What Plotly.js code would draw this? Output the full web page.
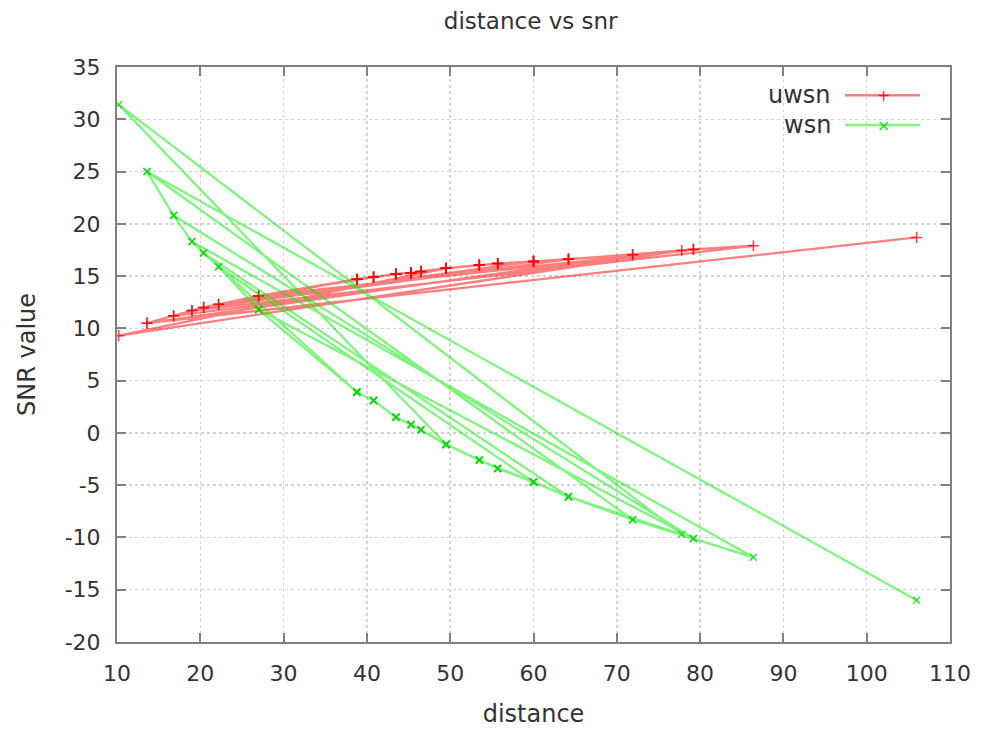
<!DOCTYPE html>
<html>
<head>
<meta charset="utf-8">
<script src="https://cdn.plot.ly/plotly-3.0.1.min.js"></script>
<style>html,body{margin:0;padding:0;background:#fff;}#chart{width:981px;height:731px;}</style>
</head>
<body>
<div id="chart"></div>
<script>
// records in file order (same order for both series)
const distance = [
  13.6, 16.8, 19.0, 20.4, 22.2, 27.0, 38.8, 40.8, 43.5, 45.3, 46.5, 49.5, 53.5, 55.7, 60.0, 64.2, 77.8,
  10.2, 49.5, 53.5, 55.7, 60.0, 64.2, 71.9, 79.2, 86.4,
  19.0, 16.8, 79.2,
  27.0, 38.8, 40.8, 43.5, 45.3, 46.5, 49.5, 53.5, 55.7, 60.0,
  22.2, 27.0, 38.8, 40.8, 43.5, 45.3, 46.5, 49.5, 55.7, 60.0, 64.2,
  20.4, 38.8, 40.8, 43.5, 45.3, 49.5, 53.5, 60.0, 64.2, 71.9,
  13.6, 106.0];
const uwsn = [
  10.5, 11.2, 11.7, 12.0, 12.3, 13.1, 14.7, 14.9, 15.2, 15.3, 15.45, 15.75, 16.05, 16.2, 16.4, 16.6, 17.45,
  9.3, 15.75, 16.05, 16.2, 16.4, 16.6, 17.05, 17.55, 17.9,
  11.7, 11.2, 17.55,
  13.1, 14.7, 14.9, 15.2, 15.3, 15.45, 15.75, 16.05, 16.2, 16.4,
  12.3, 13.1, 14.7, 14.9, 15.2, 15.3, 15.45, 15.75, 16.2, 16.4, 16.6,
  12.0, 14.7, 14.9, 15.2, 15.3, 15.75, 16.05, 16.4, 16.6, 17.05,
  10.5, 18.7];
const wsn = [
  25.0, 20.8, 18.3, 17.2, 15.9, 11.8, 3.9, 3.1, 1.5, 0.8, 0.3, -1.1, -2.6, -3.4, -4.7, -6.1, -9.7,
  31.4, -1.1, -2.6, -3.4, -4.7, -6.1, -8.3, -10.1, -11.9,
  18.3, 20.8, -10.1,
  11.8, 3.9, 3.1, 1.5, 0.8, 0.3, -1.1, -2.6, -3.4, -4.7,
  15.9, 11.8, 3.9, 3.1, 1.5, 0.8, 0.3, -1.1, -3.4, -4.7, -6.1,
  17.2, 3.9, 3.1, 1.5, 0.8, -1.1, -2.6, -4.7, -6.1, -8.3,
  25.0, -16.0];
const seriesNames = ["uwsn", "wsn"];
const xTicks = [10, 20, 30, 40, 50, 60, 70, 80, 90, 100, 110];
const yTicks = [-20, -15, -10, -5, 0, 5, 10, 15, 20, 25, 30, 35];

const red = "rgba(255,0,0,0.5)";
const green = "rgba(0,235,0,0.5)";
const font = "DejaVu Sans, sans-serif";
const txt = "#333";

const traces = [
  {x: distance, y: uwsn, name: seriesNames[0], mode: "lines+markers", type: "scatter",
   line: {color: red, width: 2.3},
   marker: {symbol: "cross-thin", size: 8, color: red, line: {color: "rgba(255,0,0,0.75)", width: 1.5}}},
  {x: distance, y: wsn, name: seriesNames[1], mode: "lines+markers", type: "scatter",
   line: {color: green, width: 2.3},
   marker: {symbol: "x-thin", size: 7, color: green, line: {color: "rgba(0,220,0,0.8)", width: 1.5}}}
];

const axisCommon = {
  showline: true, linecolor: "#808080", linewidth: 2, mirror: "allticks",
  ticks: "inside", ticklen: 9, tickwidth: 2, tickcolor: "#808080",
  showgrid: true, gridcolor: "#d4d4d4", griddash: "dot", gridwidth: 1.5,
  zeroline: false, tickfont: {family: font, size: 22, color: txt},
  fixedrange: true, automargin: false
};

const layout = {
  width: 981, height: 731,
  margin: {l: 117, r: 31, t: 67, b: 89},
  paper_bgcolor: "#fff", plot_bgcolor: "#fff",
  showlegend: false,
  title: {text: "distance vs snr", font: {family: font, size: 23, color: txt}, x: 0.541, xanchor: "center", y: 0.972, yanchor: "middle"},
  xaxis: Object.assign({}, axisCommon, {range: [10, 110], tickvals: xTicks, ticktext: xTicks.map(String), ticklabelstandoff: 11,
    title: {text: "distance", font: {family: font, size: 24, color: txt}, standoff: 20}}),
  yaxis: Object.assign({}, axisCommon, {range: [-20, 35], tickvals: yTicks, ticktext: yTicks.map(String), ticklabelstandoff: 10,
    title: {text: "SNR value", font: {family: font, size: 24, color: txt}, standoff: 22}}),
  shapes: [
    {type: "line", xref: "paper", yref: "paper", x0: 0.874, x1: 0.964, y0: 0.951, y1: 0.951, line: {color: red, width: 2.5}},
    {type: "line", xref: "paper", yref: "paper", x0: 0.874, x1: 0.964, y0: 0.899, y1: 0.899, line: {color: green, width: 2.5}}
  ],
  annotations: [
    {text: seriesNames[0], xref: "paper", yref: "paper", x: 0.86, y: 0.951, xanchor: "right", yanchor: "middle", showarrow: false, font: {family: font, size: 24, color: txt}},
    {text: seriesNames[1], xref: "paper", yref: "paper", x: 0.86, y: 0.899, xanchor: "right", yanchor: "middle", showarrow: false, font: {family: font, size: 24, color: txt}},
    {text: "+", xref: "paper", yref: "paper", x: 0.92, y: 0.951, xanchor: "center", yanchor: "middle", showarrow: false, font: {family: font, size: 16, color: "rgba(255,0,0,0.85)"}},
    {text: "×", xref: "paper", yref: "paper", x: 0.92, y: 0.899, xanchor: "center", yanchor: "middle", showarrow: false, font: {family: font, size: 16, color: "rgba(0,210,0,0.9)"}}
  ]
};

Plotly.newPlot("chart", traces, layout, {displayModeBar: false, staticPlot: true});
</script>
</body>
</html>
